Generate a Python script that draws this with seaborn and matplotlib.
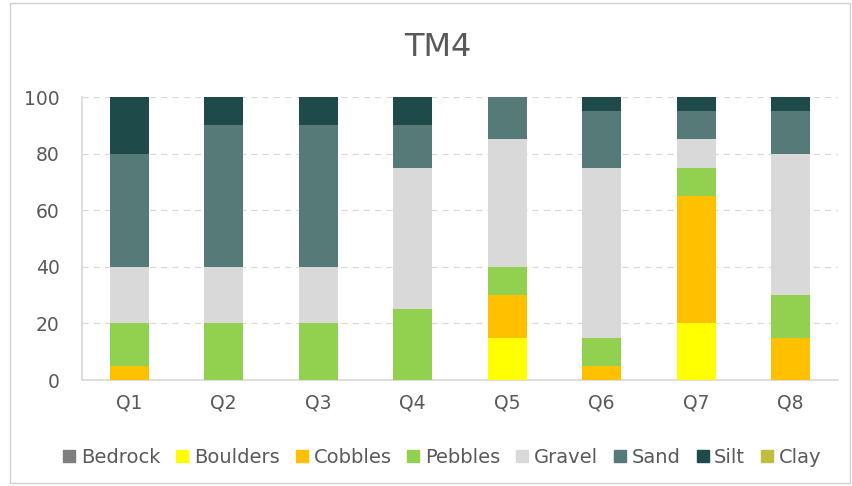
import matplotlib
matplotlib.use("Agg")
import matplotlib.pyplot as plt
import seaborn as sns
import numpy as np
import pandas as pd
from matplotlib.patches import Rectangle
from matplotlib.lines import Line2D

categories = ["Q1", "Q2", "Q3", "Q4", "Q5", "Q6", "Q7", "Q8"]
series_names = ["Bedrock", "Boulders", "Cobbles", "Pebbles", "Gravel", "Sand", "Silt", "Clay"]
bedrock  = [0, 0, 0, 0, 0, 0, 0, 0]
boulders = [0, 0, 0, 0, 15, 0, 20, 0]
cobbles  = [5, 0, 0, 0, 15, 5, 45, 15]
pebbles  = [15, 20, 20, 25, 10, 10, 10, 15]
gravel   = [20, 20, 20, 50, 45, 60, 10, 50]
sand     = [40, 50, 50, 15, 15, 20, 10, 15]
silt     = [20, 10, 10, 10, 0, 5, 5, 5]
clay     = [0, 0, 0, 0, 0, 0, 0, 0]
yticks = [0, 20, 40, 60, 80, 100]

colors = ["#7f7f7f", "#ffff00", "#ffc000", "#92d050", "#d9d9d9", "#567a78", "#1e4b4a", "#bfbf3f"]

sns.set_theme(style="white")
plt.rcParams["font.family"] = ["DejaVu Sans"]

fig = plt.figure(figsize=(8.53, 4.86), dpi=100)
ax = fig.add_axes([82/853, 1 - 380/486, (838-82)/853, (380-97)/486])

data = pd.DataFrame({"cat": categories, "Bedrock": bedrock, "Boulders": boulders,
                     "Cobbles": cobbles, "Pebbles": pebbles, "Gravel": gravel,
                     "Sand": sand, "Silt": silt, "Clay": clay})
cum = data[series_names].cumsum(axis=1)

# draw from top down so lower cumulative segments cover higher ones
for name, col in reversed(list(zip(series_names, colors))):
    sns.barplot(x=data["cat"], y=cum[name], color=col, width=0.41,
                saturation=1, ax=ax, order=categories, linewidth=0, zorder=3)

ax.set_ylim(0, 100)
ax.set_xlim(-0.5, len(categories) - 0.5)
ax.set_yticks(yticks)
ax.set_yticklabels([str(v) for v in yticks], color="#595959", fontsize=13.5)
ax.set_xticks(range(len(categories)))
ax.set_xticklabels(categories, color="#595959", fontsize=13.5)
ax.set_xlabel("")
ax.set_ylabel("")
ax.yaxis.grid(True, linestyle=(0, (5, 4)), color="#d9d9d9", linewidth=0.9, zorder=0)
ax.set_axisbelow(True)
for s in ["top", "right"]:
    ax.spines[s].set_visible(False)
ax.spines["left"].set_color("#d9d9d9")
ax.spines["bottom"].set_color("#d9d9d9")
ax.tick_params(axis="y", length=0, pad=16)
ax.tick_params(axis="x", length=0, pad=10)
# category boundary ticks
ax.set_xticks(np.arange(-0.5, len(categories), 1.0), minor=True)
ax.tick_params(axis="x", which="minor", length=5, color="#d9d9d9", width=0.9)

fig.text(438/853, 1 - 48/486, "TM4", ha="center", va="center", fontsize=23, color="#595959")

handles = [Line2D([0], [0], marker="s", linestyle="", markersize=8.5,
                  markerfacecolor=c, markeredgecolor=c) for c in colors]
fig.legend(handles, series_names, loc="center", bbox_to_anchor=(0.518, 1 - 457/486),
           ncol=8, frameon=False, fontsize=14, labelcolor="#595959",
           handletextpad=0.25, columnspacing=0.78, handlelength=0.7)

fig.patches.append(Rectangle((10/853, 3/486), 840/853, 480/486, transform=fig.transFigure,
                             fill=False, edgecolor="#d0d0d0", linewidth=1))

fig.savefig("out.png", dpi=100)
